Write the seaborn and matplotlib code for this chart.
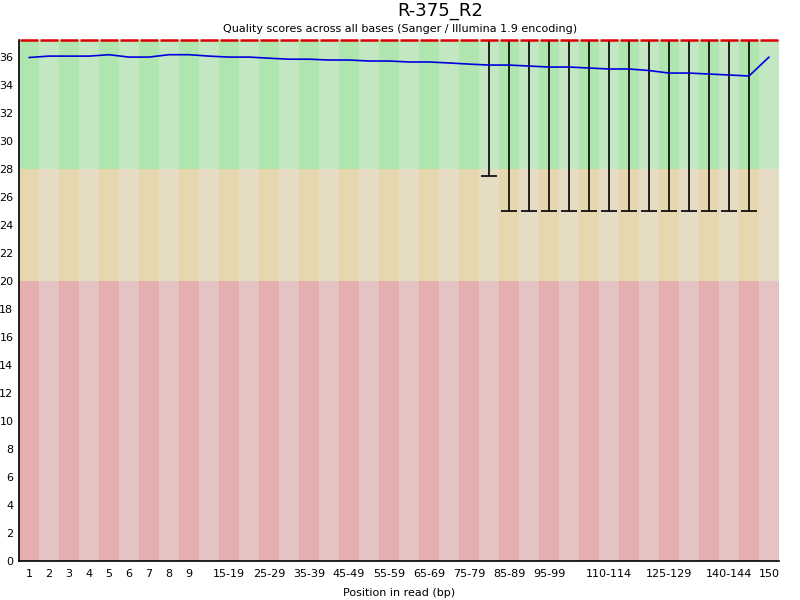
import numpy as np
import matplotlib
matplotlib.use('Agg')
import matplotlib.pyplot as plt
import seaborn as sns

# categories along the read (FastQC style grouping)
positions = ['1', '2', '3', '4', '5', '6', '7', '8', '9',
             '10-14', '15-19', '20-24', '25-29', '30-34', '35-39', '40-44',
             '45-49', '50-54', '55-59', '60-64', '65-69', '70-74', '75-79',
             '80-84', '85-89', '90-94', '95-99', '100-104', '105-109',
             '110-114', '115-119', '120-124', '125-129', '130-134',
             '135-139', '140-144', '145-149', '150']

# mean quality per position (blue line)
mean_q = [35.95, 36.05, 36.05, 36.05, 36.15, 35.98, 35.98, 36.15, 36.15,
          36.05, 35.98, 35.98, 35.90, 35.83, 35.83, 35.77, 35.77, 35.70,
          35.70, 35.63, 35.63, 35.56, 35.48, 35.41, 35.41, 35.34, 35.27,
          35.27, 35.20, 35.13, 35.13, 35.02, 34.84, 34.84, 34.77, 34.70,
          34.63, 35.98]

# median (red) and 10th / 90th percentile whiskers
median_q = [37.2] * 38
upper_q = [37.2] * 38
lower_q = [37.2] * 23 + [27.5] + [25.0] * 13 + [37.2]

# labels actually printed under the axis
shown_labels = ['1', '2', '3', '4', '5', '6', '7', '8', '9', '15-19', '25-29',
                '35-39', '45-49', '55-59', '65-69', '75-79', '85-89', '95-99',
                '110-114', '125-129', '140-144', '150']

sns.set_style('white')
plt.rcParams['font.family'] = ['DejaVu Sans']
plt.rcParams['text.color'] = 'black'
plt.rcParams['axes.labelcolor'] = 'black'
plt.rcParams['xtick.color'] = 'black'
plt.rcParams['ytick.color'] = 'black'

fig = plt.figure(figsize=(8, 6), dpi=100)
ax = fig.add_axes([19 / 800, 39 / 600, 760 / 800, 521 / 600])

x = np.arange(len(positions))
ymax = 37.2

# background bands: good / ok / bad, alternating shade per position
bands = [(28, ymax, ['#afe6af', '#c3e6c3']),
         (20, 28, ['#e6d7af', '#e6dcc3']),
         (0, 20, ['#e6afaf', '#e6c3c3'])]
for lo, hi, cols in bands:
    for i in x:
        ax.axvspan(i - 0.5, i + 0.5, ymin=lo / ymax, ymax=hi / ymax,
                   color=cols[i % 2], lw=0, zorder=0)

# whiskers
ax.vlines(x, lower_q, upper_q, color='black', lw=1.2, zorder=2)
ax.hlines(lower_q, x - 0.42, x + 0.42, color='black', lw=1.2, zorder=2)

# median
ax.hlines(median_q, x - 0.45, x + 0.45, color='#dd0000', lw=1.8, zorder=3,
          clip_on=False)

# mean
sns.lineplot(x=x, y=mean_q, color='#0000dd', lw=1.2, ax=ax, zorder=4)

ax.set_xlim(-0.5, len(positions) - 0.5)
ax.set_ylim(0, ymax)
ax.set_yticks(np.arange(0, 37, 2))
ax.set_xticks([positions.index(p) for p in shown_labels])
ax.set_xticklabels(shown_labels)
ax.tick_params(axis='both', length=0, labelsize=8, pad=6)
ax.tick_params(axis='y', pad=4)

for side in ['top', 'right']:
    ax.spines[side].set_visible(False)
for side in ['left', 'bottom']:
    ax.spines[side].set_color('black')
    ax.spines[side].set_linewidth(1.2)

ax.set_xlabel('Position in read (bp)', fontsize=8, labelpad=6)
fig.text(0.55, 1 - 16 / 600, 'R-375_R2', ha='center', va='baseline', fontsize=13)
fig.text(0.5, 1 - 31.5 / 600,
         'Quality scores across all bases (Sanger / Illumina 1.9 encoding)',
         ha='center', va='baseline', fontsize=8)

fig.savefig('out.png', dpi=100)
